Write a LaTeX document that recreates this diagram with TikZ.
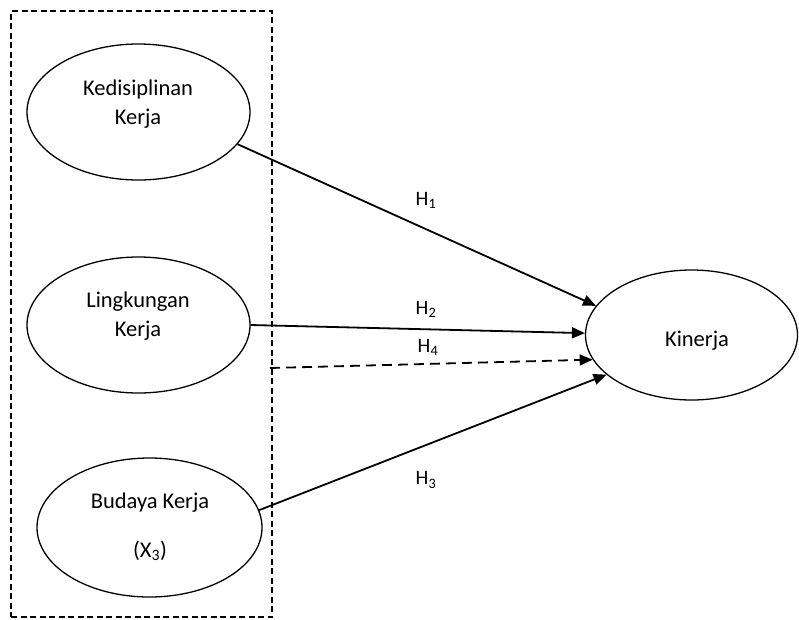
\documentclass[tikz,border=0pt]{standalone}
\usepackage{fontspec}
\setmainfont{Carlito}
\usetikzlibrary{arrows.meta,shapes.geometric}
\begin{document}
\begin{tikzpicture}[x=1pt,y=-1pt,
  var/.style={draw,ellipse,line width=1.3pt,inner sep=0pt},
  txt/.style={font=\fontsize{22.5}{29}\selectfont,align=center,inner sep=0pt},
  hlab/.style={font=\fontsize{20.5}{22}\selectfont,inner sep=0pt},
  arr/.style={line width=1.8pt,-{Triangle[length=13pt,width=11pt]}},
  frame/.style={draw,line width=1.1pt,dash pattern=on 6pt off 3.5pt}]
\useasboundingbox (0,0) rectangle (799,619);
\node[frame,minimum width=261pt,minimum height=606pt,inner sep=0pt] (box) at (141.5,314) {};
\node[var,minimum width=223pt,minimum height=136pt] (k1) at (138.5,112) {};
\node[var,minimum width=223pt,minimum height=136pt] (k2) at (138.5,325) {};
\node[var,minimum width=225pt,minimum height=139pt] (k3) at (149.5,527.5) {};
\node[var,minimum width=212pt,minimum height=130pt] (kin) at (691.5,335) {};
\node[txt] (t1) at (138,104) {Kedisiplinan\\Kerja};
\node[txt] (t2) at (138,316) {Lingkungan\\Kerja};
\node[txt,font=\fontsize{22.5}{49}\selectfont] (t3) at (150,527) {Budaya Kerja\\(X\textsubscript{3})};
\node[txt] (t4) at (697,341) {Kinerja};
\coordinate (h4s) at (270,368);
\draw[arr] (k1.-18) -- (kin.163);
\draw[arr] (k2.east) -- (kin.179);
\draw[arr,dash pattern=on 10pt off 6pt] (h4s) -- (kin.194);
\draw[arr] (k3.9) -- (kin.205);
\node[hlab] (l1) at (426,200) {H\textsubscript{1}};
\node[hlab] (l2) at (426,309) {H\textsubscript{2}};
\node[hlab] (l4) at (428,347) {H\textsubscript{4}};
\node[hlab] (l3) at (426,480) {H\textsubscript{3}};
\end{tikzpicture}
\end{document}
